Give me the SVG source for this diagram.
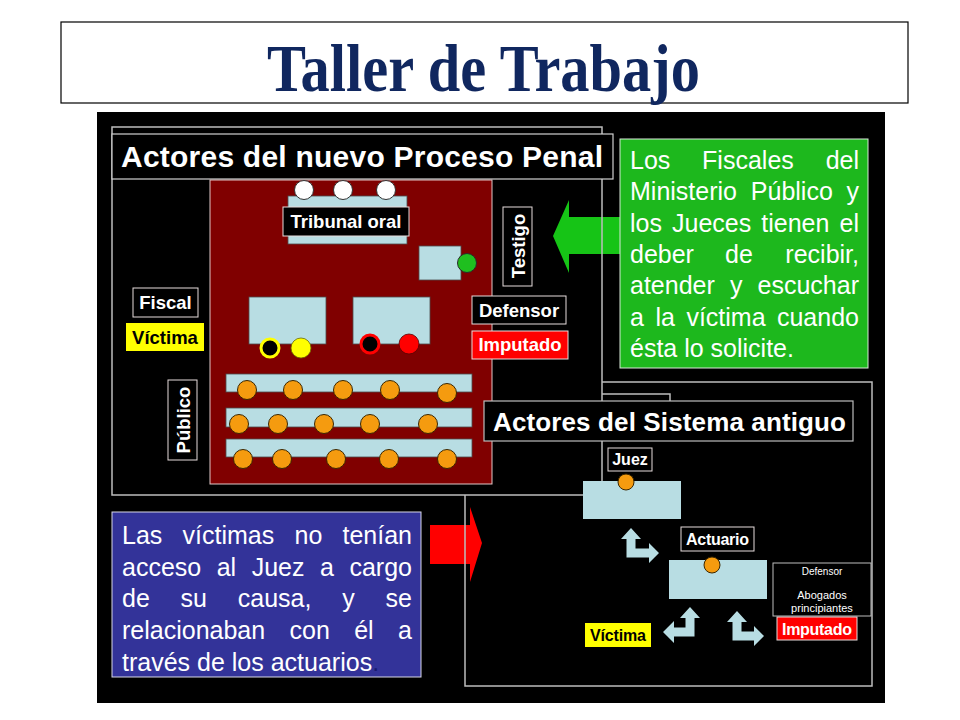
<svg xmlns="http://www.w3.org/2000/svg" width="960" height="720" viewBox="0 0 960 720">
<style>
.sans{font-family:"Liberation Sans",Arial,sans-serif}
.lbl{font-family:"Liberation Sans",Arial,sans-serif;font-weight:bold;fill:#fff}
.blk{fill:#000;stroke:#e6dcdc;stroke-width:1}
.desk{fill:#b8dde3;stroke:#4d4d4d;stroke-width:0.8}
.org{fill:#f59b0f;stroke:#3b2600;stroke-width:1}
.outline{fill:none;stroke:#bdbdbd;stroke-width:1.5}
.body{font-family:"Liberation Sans",Arial,sans-serif;font-size:25px;fill:#fff}
.barrow{fill:#b8dde3}
</style>
<rect width="960" height="720" fill="#fff"/>
<g id="title">
<rect x="61" y="22" width="847" height="81" fill="#fff" stroke="#000" stroke-width="1.2"/>
<text x="267" y="91" font-family="Liberation Serif,'Times New Roman',serif" font-weight="bold" font-size="68" fill="#10275f" textLength="433" lengthAdjust="spacingAndGlyphs">Taller de Trabajo</text>
</g>
<rect x="97" y="112" width="788" height="591" fill="#000"/>
<g id="connectors">
<path id="red-arrow" d="M430,525 H470 V507 L482,543 L470,582 V564 H430 Z" fill="#ff0000"/>
</g>
<g id="panel-old-frame">
<rect class="outline" x="465" y="382" width="407" height="304"/>
<rect class="outline" x="480" y="394" width="190" height="36"/>
</g>
<g id="panel-new">
<rect x="112" y="127" width="490" height="368" fill="#000"/>
<path id="green-arrow" d="M620,217 H569 V200 L553,236 L569,273 V254 H620 Z" fill="#16c416"/>
<rect class="outline" x="112" y="127" width="490" height="368"/>
<rect x="112" y="134" width="501" height="45" fill="#000" stroke="#d0d0d0" stroke-width="1.2"/>
<text class="lbl" x="121" y="167" font-size="30" textLength="482">Actores del nuevo Proceso Penal</text>
</g>
<g id="courtroom">
<rect x="210" y="180" width="282" height="304" fill="#800000" stroke="#e0c8c8" stroke-width="1"/>
</g>
<g id="tribunal">
<rect class="desk" x="288" y="196" width="119" height="48"/>
<circle cx="304" cy="190" r="9.5" fill="#fff" stroke="#333" stroke-width="1"/>
<circle cx="343" cy="190" r="9.5" fill="#fff" stroke="#333" stroke-width="1"/>
<circle cx="386" cy="190" r="9.5" fill="#fff" stroke="#333" stroke-width="1"/>
<rect class="blk" x="283" y="207" width="126" height="29"/>
<text class="lbl" x="346" y="228" font-size="18.5" text-anchor="middle">Tribunal oral</text>
</g>
<g id="testigo-seat">
<rect class="desk" x="419" y="246" width="42" height="34"/>
<circle cx="467" cy="263" r="9.5" fill="#1fbf1f" stroke="#2a2a2a" stroke-width="1"/>
</g>
<g id="testigo">
<rect class="blk" x="503" y="207" width="29" height="79"/>
<text class="lbl" font-size="18.5" text-anchor="middle" transform="translate(525,246) rotate(-90)">Testigo</text>
</g>
<g id="fiscal-desk">
<rect class="desk" x="249" y="297" width="77" height="47"/>
<circle cx="270" cy="348" r="9" fill="#000" stroke="#ffff00" stroke-width="3"/>
<circle cx="301" cy="348" r="10" fill="#ffff00" stroke="#6b6b00" stroke-width="0.8"/>
</g>
<g id="defensa-desk">
<rect class="desk" x="353" y="297" width="77" height="47"/>
<circle cx="370" cy="344" r="9" fill="#000" stroke="#ff0000" stroke-width="3"/>
<circle cx="409" cy="344" r="10" fill="#ff0000" stroke="#5a0000" stroke-width="0.8"/>
</g>
<g id="publico-benches">
<rect class="desk" x="226" y="374" width="246" height="18"/>
<rect class="desk" x="226" y="408" width="246" height="19"/>
<rect class="desk" x="226" y="439" width="246" height="18"/>
<circle class="org" cx="247" cy="390" r="9.5"/>
<circle class="org" cx="293" cy="390" r="9.5"/>
<circle class="org" cx="343" cy="390" r="9.5"/>
<circle class="org" cx="390" cy="390" r="9.5"/>
<circle class="org" cx="447" cy="393" r="9.5"/>
<circle class="org" cx="239" cy="424" r="9.5"/>
<circle class="org" cx="278" cy="424" r="9.5"/>
<circle class="org" cx="324" cy="424" r="9.5"/>
<circle class="org" cx="370" cy="424" r="9.5"/>
<circle class="org" cx="428" cy="424" r="9.5"/>
<circle class="org" cx="243" cy="459" r="9.5"/>
<circle class="org" cx="282" cy="459" r="9.5"/>
<circle class="org" cx="336" cy="459" r="9.5"/>
<circle class="org" cx="389" cy="459" r="9.5"/>
<circle class="org" cx="447" cy="459" r="9.5"/>
</g>
<g id="fiscal">
<rect class="blk" x="133" y="288" width="65" height="29"/>
<text class="lbl" x="165.5" y="309" font-size="18.5" text-anchor="middle">Fiscal</text>
</g>
<g id="victima-new">
<rect x="126" y="323" width="78" height="28" fill="#ffff00"/>
<text class="lbl" x="165" y="344" font-size="18.5" text-anchor="middle" style="fill:#000">Víctima</text>
</g>
<g id="publico">
<rect class="blk" x="168" y="380" width="29" height="80"/>
<text class="lbl" font-size="18.5" text-anchor="middle" transform="translate(190,420) rotate(-90)">Público</text>
</g>
<g id="defensor-new">
<rect class="blk" x="472" y="296" width="94" height="28"/>
<text class="lbl" x="519" y="317" font-size="18.5" text-anchor="middle">Defensor</text>
</g>
<g id="imputado-new">
<rect x="472" y="331" width="96" height="28" fill="#ff0000" stroke="#e6dcdc" stroke-width="1"/>
<text class="lbl" x="520" y="351" font-size="18.5" text-anchor="middle">Imputado</text>
</g>
<g id="sistema-antiguo-title">
<rect x="484" y="401" width="369" height="40" fill="#000" stroke="#bdbdbd" stroke-width="1.2"/>
<text class="lbl" x="493" y="431" font-size="26" textLength="353">Actores del Sistema antiguo</text>
</g>
<g id="juez">
<rect class="desk" x="583" y="481" width="98" height="38" style="stroke:none"/>
<circle class="org" cx="626" cy="482" r="8"/>
<rect class="blk" x="608" y="448" width="44" height="23"/>
<text class="lbl" x="630" y="465" font-size="16" text-anchor="middle">Juez</text>
</g>
<g id="actuario">
<rect class="desk" x="669" y="560" width="98" height="39" style="stroke:none"/>
<circle class="org" cx="712" cy="565" r="8"/>
<rect class="blk" x="681" y="527" width="73" height="24"/>
<text class="lbl" x="717.5" y="545" font-size="16" text-anchor="middle" textLength="63">Actuario</text>
</g>
<g id="defensor-old">
<rect x="773" y="563" width="98" height="53" fill="#000" stroke="#bdbdbd" stroke-width="1"/>
<text class="sans" x="822" y="575" font-size="10" fill="#fff" text-anchor="middle">Defensor</text>
<text class="sans" x="822" y="599" font-size="11" fill="#fff" text-anchor="middle">Abogados</text>
<text class="sans" x="822" y="612" font-size="11" fill="#fff" text-anchor="middle">principiantes</text>
</g>
<g id="imputado-old">
<rect x="777" y="617" width="80" height="23" fill="#ff0000" stroke="#e6dcdc" stroke-width="1"/>
<text class="lbl" x="817" y="635" font-size="16" text-anchor="middle" textLength="70">Imputado</text>
</g>
<g id="victima-old">
<rect x="585" y="623" width="66" height="24" fill="#ffff00"/>
<text class="lbl" x="618" y="641" font-size="16" text-anchor="middle" style="fill:#000" textLength="56">Víctima</text>
</g>
<g id="old-connectors">
<path class="barrow" d="M631,528 L641,539 H635.5 V548.5 H649 V543 L659,553 L649,563 V557.5 H626.5 V539 H621 Z"/>
<path class="barrow" d="M690,607 L700,618 H694.5 V636.5 H674 V643 L663,632 L674,621 V627.5 H685.5 V618 H680 Z"/>
<path class="barrow" d="M737,611 L747,622 H741.5 V631.5 H754 V626 L764,636 L754,646 V640.5 H732.5 V622 H727 Z"/>
</g>
<g id="note-green">
<rect x="620" y="139" width="248" height="229" fill="#1db81d" stroke="#d8e8d8" stroke-width="1"/>
<g class="body">
<text x="630" y="169">Los</text><text x="702.1" y="169">Fiscales</text><text x="859" y="169" text-anchor="end">del</text>
<text x="630" y="200">Ministerio</text><text x="750.8" y="200">Público</text><text x="859" y="200" text-anchor="end">y</text>
<text x="630" y="232">los</text><text x="672" y="232">Jueces</text><text x="761.3" y="232">tienen</text><text x="859" y="232" text-anchor="end">el</text>
<text x="630" y="263">deber</text><text x="725" y="263">de</text><text x="859" y="263" text-anchor="end">recibir,</text>
<text x="630" y="294">atender</text><text x="730" y="294">y</text><text x="859" y="294" text-anchor="end">escuchar</text>
<text x="630" y="326">a</text><text x="655.4" y="326">la</text><text x="686.4" y="326">víctima</text><text x="859" y="326" text-anchor="end">cuando</text>
<text x="630" y="357">ésta</text><text x="684.2" y="357">lo</text><text x="710.6" y="357">solicite.</text>
</g>
</g>
<g id="note-blue">
<rect x="112" y="512" width="309" height="165" fill="#333399" stroke="#d8d8e8" stroke-width="1"/>
<g class="body">
<text x="122" y="544">Las</text><text x="182.5" y="544">víctimas</text><text x="294.5" y="544">no</text><text x="412" y="544" text-anchor="end">tenían</text>
<text x="122" y="576">acceso</text><text x="216.7" y="576">al</text><text x="251.7" y="576">Juez</text><text x="320.1" y="576">a</text><text x="412" y="576" text-anchor="end">cargo</text>
<text x="122" y="607">de</text><text x="180.6" y="607">su</text><text x="237.8" y="607">causa,</text><text x="342.3" y="607">y</text><text x="412" y="607" text-anchor="end">se</text>
<text x="122" y="639">relacionaban</text><text x="289.5" y="639">con</text><text x="354.2" y="639">él</text><text x="412" y="639" text-anchor="end">a</text>
<text x="122" y="671">través</text><text x="197" y="671">de</text><text x="231.8" y="671">los</text><text x="270.7" y="671">actuarios<tspan fill="#1a1a70">.</tspan></text>
</g>
</g>
</svg>
